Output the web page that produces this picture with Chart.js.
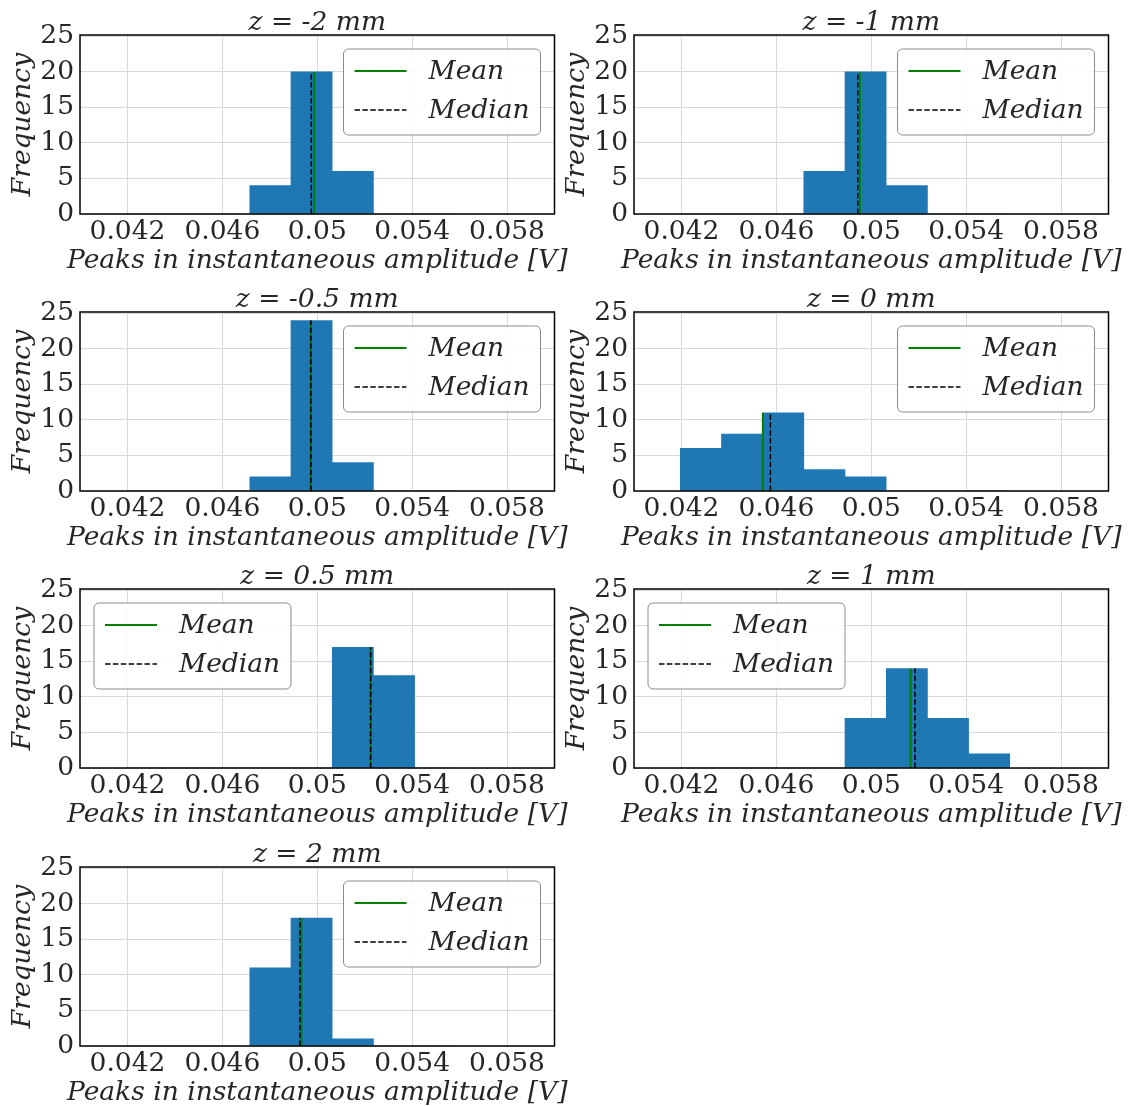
<!DOCTYPE html>
<html>
<head>
<meta charset="utf-8">
<script src="https://cdn.jsdelivr.net/npm/chart.js@4.4.1/dist/chart.umd.min.js"></script>
<style>
  html, body { margin: 0; padding: 0; background: #ffffff; }
  #fig { position: relative; width: 1131px; height: 1106px; overflow: hidden; background: #ffffff; }
  #fig canvas { position: absolute; }
</style>
</head>
<body>
<div id="fig"></div>
<script>
// Histogram panels: one per axial position z
const panelTitles = ['z = -2 mm', 'z = -1 mm', 'z = -0.5 mm', 'z = 0 mm', 'z = 0.5 mm', 'z = 1 mm', 'z = 2 mm'];

// Shared bin edges [V]
const binEdges = [0.04195, 0.04369, 0.04542, 0.04716, 0.04889, 0.05063, 0.05237, 0.05410, 0.05584];

// Counts per bin for each z
const countsZm2  = [0, 0, 0, 4, 20, 6, 0, 0];
const countsZm1  = [0, 0, 0, 6, 20, 4, 0, 0];
const countsZm05 = [0, 0, 0, 2, 24, 4, 0, 0];
const countsZ0   = [6, 8, 11, 3, 2, 0, 0, 0];
const countsZp05 = [0, 0, 0, 0, 0, 17, 13, 0];
const countsZp1  = [0, 0, 0, 0, 7, 14, 7, 2];
const countsZp2  = [0, 0, 0, 11, 18, 1, 0, 0];
const panelCounts = [countsZm2, countsZm1, countsZm05, countsZ0, countsZp05, countsZp1, countsZp2];

// Mean and median of the peaks for each z [V]
const meanValues   = [0.04987, 0.04952, 0.04973, 0.04543, 0.05225, 0.05166, 0.04933];
const medianValues = [0.04975, 0.04943, 0.04973, 0.04575, 0.05225, 0.05184, 0.04927];

// Axis ticks
const xTickValues = [0.042, 0.046, 0.05, 0.054, 0.058];
const xTickLabels = ['0.042', '0.046', '0.05', '0.054', '0.058'];
const yTickValues = [0, 5, 10, 15, 20, 25];

const seriesLabels = ['Mean', 'Median'];
const xAxisTitle = 'Peaks in instantaneous amplitude [V]';
const yAxisTitle = 'Frequency';

// Figure layout (pixels) and legend placement
const panelLeft = [6, 560, 6, 560, 6, 560, 6];
const panelTop = [0, 0, 277, 277, 554, 554, 832];
const legendCorner = ['right', 'right', 'right', 'right', 'left', 'left', 'right'];

const SERIF = "'DejaVu Serif', 'Liberation Serif', serif";
const TEXT = '#262626';
const FS = 26.5;

Chart.defaults.font.family = SERIF;
Chart.defaults.color = TEXT;

// Panel title and x label centred on the axes, frame around the axes, inset legend
const frameLegend = {
  id: 'frameLegend',
  afterDatasetsDraw(chart, args, opts) {
    const { ctx, chartArea: a } = chart;
    const cx = (a.left + a.right) / 2;
    ctx.save();
    ctx.strokeStyle = '#000000';
    ctx.lineWidth = 1.5;
    ctx.strokeRect(a.left, a.top, a.right - a.left, a.bottom - a.top);

    ctx.fillStyle = TEXT;
    ctx.font = `italic ${FS}px ${SERIF}`;
    ctx.textAlign = 'center';
    ctx.textBaseline = 'alphabetic';
    ctx.fillText(opts.title, cx, a.top - 5);
    ctx.fillText(opts.xlabel, cx, a.bottom + 54);

    const w = 197, h = 86, r = 5;
    const x0 = opts.corner === 'left' ? a.left + 14 : a.right - 14 - w;
    const y0 = a.top + 14;
    ctx.beginPath();
    ctx.roundRect(x0, y0, w, h, r);
    ctx.fillStyle = 'rgba(255,255,255,0.85)';
    ctx.fill();
    ctx.strokeStyle = '#8c8c8c';
    ctx.lineWidth = 1;
    ctx.stroke();

    // entries follow the order of seriesLabels
    seriesLabels.forEach((label, i) => {
      const d = chart.data.datasets.find(ds => ds.label === label);
      const y = y0 + 22 + i * 39;
      ctx.beginPath();
      ctx.setLineDash(d.borderDash || []);
      ctx.strokeStyle = d.borderColor;
      ctx.lineWidth = d.borderWidth;
      ctx.moveTo(x0 + 11, y);
      ctx.lineTo(x0 + 63, y);
      ctx.stroke();
      ctx.setLineDash([]);
      ctx.fillStyle = TEXT;
      ctx.textBaseline = 'middle';
      ctx.textAlign = 'left';
      ctx.fillText(label, x0 + 85, y + 1.5);
    });
    ctx.restore();
  }
};

const fig = document.getElementById('fig');

panelTitles.forEach((title, p) => {
  const canvas = document.createElement('canvas');
  canvas.width = 571;
  canvas.height = 276;
  canvas.style.left = panelLeft[p] + 'px';
  canvas.style.top = panelTop[p] + 'px';
  fig.appendChild(canvas);

  const counts = panelCounts[p];
  const bars = counts.map((c, i) => ({ x: (binEdges[i] + binEdges[i + 1]) / 2, y: c }));
  const top = Math.max(...counts);

  new Chart(canvas, {
    type: 'bar',
    data: {
      datasets: [
        {
          type: 'line', label: seriesLabels[1], order: 1,
          data: [{ x: medianValues[p], y: 0 }, { x: medianValues[p], y: top }],
          borderColor: '#000000', borderWidth: 1.5, borderDash: [5.5, 2.4],
          pointRadius: 0, fill: false
        },
        {
          type: 'line', label: seriesLabels[0], order: 2,
          data: [{ x: meanValues[p], y: 0 }, { x: meanValues[p], y: top }],
          borderColor: '#008000', borderWidth: 2,
          pointRadius: 0, fill: false
        },
        {
          type: 'bar', label: 'counts', order: 3,
          data: bars,
          backgroundColor: '#1f77b4', borderWidth: 0,
          barPercentage: 1.0, categoryPercentage: 1.0, grouped: false
        }
      ]
    },
    options: {
      responsive: false,
      animation: false,
      events: [],
      layout: { padding: { top: 35, right: 22.5, bottom: 0, left: 0 } },
      plugins: {
        legend: { display: false },
        tooltip: { enabled: false },
        title: { display: false },
        frameLegend: { corner: legendCorner[p], title: title, xlabel: xAxisTitle }
      },
      scales: {
        x: {
          type: 'linear', min: 0.040, max: 0.060, offset: false,
          afterFit: s => { s.height = 62; },
          afterBuildTicks: s => { s.ticks = xTickValues.map(v => ({ value: v })); },
          ticks: {
            autoSkip: false, maxRotation: 0, padding: 2.5,
            font: { size: FS },
            callback: (v) => xTickLabels[xTickValues.indexOf(v)]
          },
          grid: { color: '#d9d9d9', lineWidth: 1, drawTicks: false, offset: false },
          border: { display: false },
          title: { display: false }
        },
        y: {
          min: 0, max: 25.2,
          afterFit: s => { s.width = 74; },
          afterBuildTicks: s => { s.ticks = yTickValues.map(v => ({ value: v })); },
          ticks: { padding: 6, font: { size: FS } },
          grid: { color: '#d9d9d9', lineWidth: 1, drawTicks: false },
          border: { display: false },
          title: {
            display: true, text: yAxisTitle, color: TEXT,
            font: { size: FS, style: 'italic' }, padding: { top: 1.7, bottom: 0 }
          }
        }
      }
    },
    plugins: [frameLegend]
  });
});
</script>
</body>
</html>
